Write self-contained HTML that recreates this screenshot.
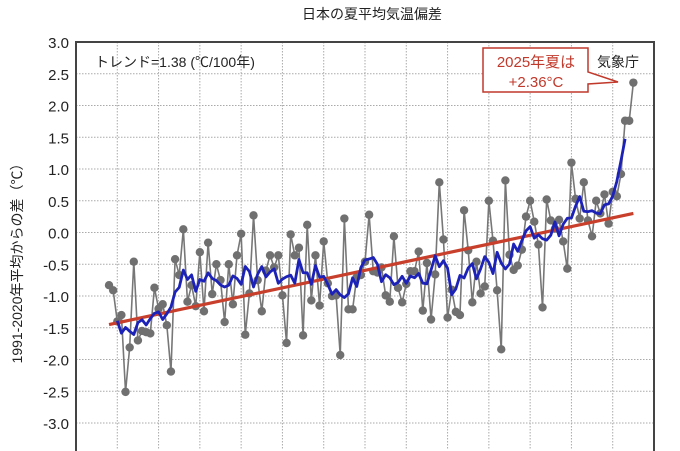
<!DOCTYPE html>
<html><head><meta charset="utf-8"><style>
html,body{margin:0;background:#fff;width:680px;height:451px;overflow:hidden}
svg{display:block;font-family:"Liberation Sans","Noto Sans CJK JP",sans-serif}
</style></head><body>
<svg id="c" width="680" height="451" viewBox="0 0 680 451"></svg>
<script>
const startYear = 1898;
const anomalies = [-0.83,-0.91,-1.40,-1.30,-2.51,-1.81,-0.46,-1.70,-1.55,-1.57,-1.59,-0.87,-1.20,-1.13,-1.46,-2.19,-0.42,-0.67,0.05,-1.09,-0.83,-1.16,-0.31,-1.24,-0.16,-0.97,-0.50,-0.75,-1.41,-0.50,-1.13,-0.36,-0.02,-1.61,-0.96,0.27,-0.75,-1.24,-0.60,-0.36,-0.55,-0.36,-0.99,-1.74,-0.03,-0.36,-0.24,-1.62,0.12,-1.07,-0.36,-1.15,-0.14,-0.80,-1.00,-0.99,-1.93,0.22,-1.21,-1.21,-0.70,-0.67,-0.46,0.28,-0.61,-0.63,-0.55,-0.99,-1.09,-0.06,-0.87,-1.10,-0.81,-0.61,-0.61,-0.30,-1.23,-0.48,-1.37,-0.66,0.79,-0.11,-1.34,-0.90,-1.25,-1.30,0.35,-0.28,-1.10,-0.46,-0.96,-0.85,0.50,-0.13,-0.91,-1.84,0.82,-0.35,-0.59,-0.52,-0.27,0.25,0.50,0.17,-0.19,-1.18,0.52,0.19,0.06,0.20,-0.14,-0.57,1.10,0.53,0.22,0.79,0.19,-0.06,0.50,0.30,0.60,0.14,0.64,0.57,0.92,1.76,1.76,2.36];
const trendYears = [1898, 2025];
const trendValues = [-1.45, 0.30];
const yTicks = ["3.0","2.5","2.0","1.5","1.0","0.5","0.0","-0.5","-1.0","-1.5","-2.0","-2.5","-3.0"];
const xGridYears = [1900,1910,1920,1930,1940,1950,1960,1970,1980,1990,2000,2010,2020];

const NS="http://www.w3.org/2000/svg";
const svg=document.getElementById('c');
const L=76,R=654,Y0=1890,Y1=2030;
const xs=yr=>L+(yr-Y0)*(R-L)/(Y1-Y0);
const ys=v=>232.5-63.5*v;
function mk(t,a,p){const e=document.createElementNS(NS,t);for(const k in a)e.setAttribute(k,a[k]);(p||svg).appendChild(e);return e;}

const title=mk('text',{x:372,y:19,'text-anchor':'middle','font-size':14,fill:'#222'});
title.textContent='日本の夏平均気温偏差';



const grid=mk('g',{stroke:'#aaa','stroke-width':1,'stroke-dasharray':'1.5,1.5'});


yTicks.forEach(t=>{const v=parseFloat(t);const y=ys(v);
  if(v<3)mk('line',{x1:L,x2:R,y1:y,y2:y},grid);
  const tx=mk('text',{x:69,y:y+6,'text-anchor':'end','font-size':15,fill:'#222'});
  tx.textContent=t;
  
  
});
xGridYears.forEach(yr=>mk('line',{x1:xs(yr),x2:xs(yr),y1:42,y2:450},grid));

const frame=mk('path',{d:`M${L},451 V42 H${R} V451`,fill:'none',stroke:'#444','stroke-width':2});



const yt=mk('text',{x:0,y:0,'text-anchor':'middle','font-size':14,fill:'#222',transform:'translate(22,260) rotate(-90)'});
yt.textContent='1991-2020年平均からの差（℃）';



const tl=mk('text',{x:95,y:67,'font-size':14,fill:'#222'});
tl.textContent='トレンド=1.38 (℃/100年)';



const pts=anomalies.map((v,i)=>xs(startYear+i)+','+ys(v)).join(' ');
const ln=mk('polyline',{points:pts,fill:'none',stroke:'#777','stroke-width':1.6});


anomalies.forEach((v,i)=>{
  const c=mk('circle',{cx:xs(startYear+i),cy:ys(v),r:4.2,fill:'#707070'});
  
  
});
const tr=mk('line',{x1:xs(trendYears[0]),y1:ys(trendValues[0]),x2:xs(trendYears[1]),y2:ys(trendValues[1]),stroke:'#c8402c','stroke-width':3.2});


const rm=[];
for(let i=2;i<anomalies.length;i++){
  const lo=Math.max(0,i-2),hi=Math.min(anomalies.length-1,i+2);
  if(i+2>anomalies.length-1&&i!==anomalies.length-3)continue;
  let s=0;for(let j=lo;j<=hi;j++)s+=anomalies[j];
  rm.push(xs(startYear+i)+','+ys(s/(hi-lo+1)));
}
const bl=mk('polyline',{points:rm.join(' '),fill:'none',stroke:'#1c22b8','stroke-width':2.8,'stroke-linejoin':'round'});



const co=mk('path',{d:'M483,48 H588 V72 L618,82 L588,84 V92 H483 Z',fill:'#fff',stroke:'#c0392b','stroke-width':1.5});


const c1=mk('text',{x:536,y:67,'text-anchor':'middle','font-size':15,fill:'#c0392b'});
c1.textContent='2025年夏は';


const c2=mk('text',{x:536,y:87,'text-anchor':'middle','font-size':15,fill:'#c0392b'});
c2.textContent='+2.36°C';


const jm=mk('text',{x:597,y:67,'font-size':14,fill:'#222'});
jm.textContent='気象庁';


</script>
</body></html>
